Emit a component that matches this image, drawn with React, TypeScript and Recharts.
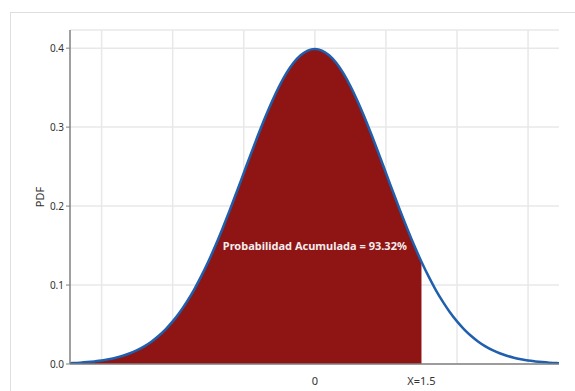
import {
  ComposedChart,
  Area,
  Line,
  XAxis,
  YAxis,
  CartesianGrid,
  ReferenceArea,
  ReferenceDot,
} from 'recharts';

// Standard normal density, sampled every 0.1
const xValues = [
  -3.5, -3.4, -3.3, -3.2, -3.1, -3.0, -2.9, -2.8, -2.7, -2.6, -2.5, -2.4, -2.3, -2.2, -2.1,
  -2.0, -1.9, -1.8, -1.7, -1.6, -1.5, -1.4, -1.3, -1.2, -1.1, -1.0, -0.9, -0.8, -0.7, -0.6,
  -0.5, -0.4, -0.3, -0.2, -0.1, 0.0, 0.1, 0.2, 0.3, 0.4, 0.5, 0.6, 0.7, 0.8, 0.9,
  1.0, 1.1, 1.2, 1.3, 1.4, 1.5, 1.6, 1.7, 1.8, 1.9, 2.0, 2.1, 2.2, 2.3, 2.4,
  2.5, 2.6, 2.7, 2.8, 2.9, 3.0, 3.1, 3.2, 3.3, 3.4, 3.5,
];

const pdfValues = [
  0.0009, 0.0012, 0.0017, 0.0024, 0.0033, 0.0044, 0.006, 0.0079, 0.0104, 0.0136, 0.0175, 0.0224, 0.0283, 0.0355, 0.044,
  0.054, 0.0656, 0.079, 0.094, 0.1109, 0.1295, 0.1497, 0.1714, 0.1942, 0.2179, 0.242, 0.2661, 0.2897, 0.3123, 0.3332,
  0.3521, 0.3683, 0.3814, 0.391, 0.397, 0.3989, 0.397, 0.391, 0.3814, 0.3683, 0.3521, 0.3332, 0.3123, 0.2897, 0.2661,
  0.242, 0.2179, 0.1942, 0.1714, 0.1497, 0.1295, 0.1109, 0.094, 0.079, 0.0656, 0.054, 0.044, 0.0355, 0.0283, 0.0224,
  0.0175, 0.0136, 0.0104, 0.0079, 0.006, 0.0044, 0.0033, 0.0024, 0.0017, 0.0012, 0.0009,
];

const X_CUT = 1.5;
const CUM_LABEL = 'Probabilidad Acumulada = 93.32%';

const xTicks = [0, 1.5];
const xTickLabels = ['0', 'X=1.5'];
const yTicks = [0, 0.1, 0.2, 0.3, 0.4];
const gridX = [-3, -2, -1, 0, 1, 2, 3];

const X_DOMAIN: [number, number] = [-3.445, 3.435];

const data = xValues.map((x, i) => ({
  x,
  pdf: pdfValues[i],
  shaded: x <= X_CUT + 1e-9 ? pdfValues[i] : null,
}));

const FONT = '"Noto Sans", sans-serif';

// vertical grid at every integer of the x domain
const gridGenerator = ({ xAxis, offset }: any) => {
  const scale = xAxis?.scale;
  return gridX.map((g) => {
    const px = typeof scale === 'function' ? scale(g) : undefined;
    if (Number.isFinite(px)) return px;
    return offset.left + ((g - X_DOMAIN[0]) / (X_DOMAIN[1] - X_DOMAIN[0])) * offset.width;
  });
};

export default function App() {
  return (
    <div style={{ position: 'absolute', left: 0, top: 0, width: 575, height: 391, overflow: 'hidden', background: '#fff', fontFamily: FONT }}>
      {/* outer panel frame */}
      <div style={{ position: 'absolute', left: 10, top: 12, width: 620, height: 420, border: '1px solid #dedede' }} />
      <ComposedChart
        width={575}
        height={391}
        data={data}
        margin={{ top: 30, right: 16, left: 0, bottom: 0 }}
        style={{ position: 'absolute', left: 0, top: 0 }}
      >
        <CartesianGrid
          stroke="#e8e8e8"
          strokeWidth={1.5}
          verticalCoordinatesGenerator={gridGenerator}
        />
        <XAxis
          dataKey="x"
          type="number"
          domain={X_DOMAIN}
          allowDataOverflow
          ticks={xTicks}
          tickFormatter={(v: number) => xTickLabels[xTicks.indexOf(v)] ?? ''}
          tickLine={false}
          tickMargin={7}
          height={27}
          axisLine={{ stroke: '#808080', strokeWidth: 1.5 }}
          tick={{ fill: '#333', fontSize: 11, fontFamily: FONT }}
        />
        <YAxis
          type="number"
          domain={[0, 0.423]}
          allowDataOverflow
          ticks={yTicks}
          tickFormatter={(v: number) => v.toFixed(1)}
          width={70}
          tickSize={4}
          tickMargin={2}
          axisLine={{ stroke: '#808080', strokeWidth: 1.5 }}
          tickLine={{ stroke: '#808080' }}
          tick={{ fill: '#333', fontSize: 10, fontFamily: FONT }}
          label={() => (
            <text x={39} y={197} transform="rotate(-90 39 197)" textAnchor="middle" dominantBaseline="central" fill="#333" fontSize={11} fontFamily={FONT}>
              PDF
            </text>
          )}
        />
        <Area
          dataKey="shaded"
          type="monotone"
          fill="#8f1414"
          fillOpacity={1}
          stroke="none"
          isAnimationActive={false}
        />
        <Line
          dataKey="pdf"
          type="monotone"
          stroke="#1f5fad"
          strokeWidth={2.5}
          dot={false}
          isAnimationActive={false}
        />
        <ReferenceDot
          x={0}
          y={0.149}
          r={0}
          label={{ value: CUM_LABEL, fill: '#f4ecec', fontSize: 11, fontWeight: 700, fontFamily: FONT }}
        />
        <ReferenceArea fill="none" stroke="#808080" strokeWidth={1.5} />
      </ComposedChart>
    </div>
  );
}
